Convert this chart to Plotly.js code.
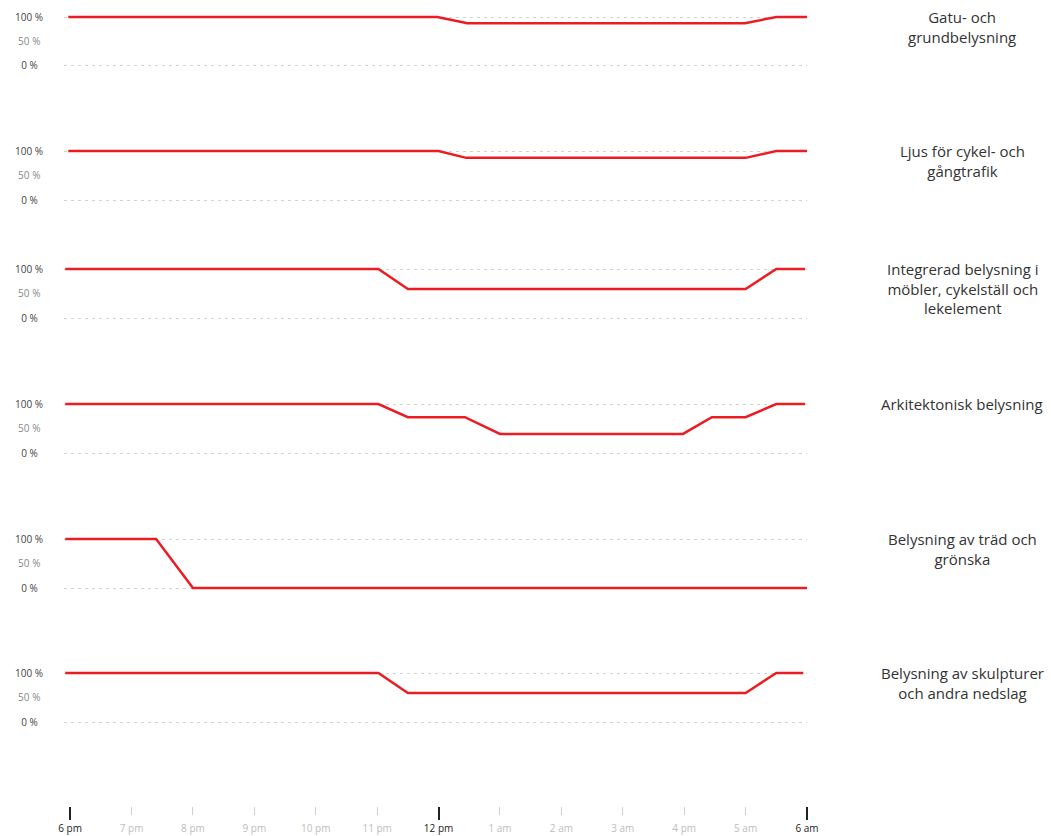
<!DOCTYPE html>
<html><head><meta charset="utf-8">
<script src="https://cdn.plot.ly/plotly-3.0.1.min.js"></script>
<style>html,body{margin:0;padding:0;background:#fff}#chart{width:1051px;height:836px}</style>
</head><body><div id="chart"></div>
<script>
// ---------- data ----------
const hourVals = [0,1,2,3,4,5,6,7,8,9,10,11,12];
const hourLabels = ['6 pm','7 pm','8 pm','9 pm','10 pm','11 pm','12 pm','1 am','2 am','3 am','4 pm','5 am','6 am'];
const majorHours = [0,6,12];

const categories = [
  'Gatu- och<br>grundbelysning',
  'Ljus för cykel- och<br>gångtrafik',
  'Integrerad belysning i<br>möbler, cykelställ och<br>lekelement',
  'Arkitektonisk belysning',
  'Belysning av träd och<br>grönska',
  'Belysning av skulpturer<br>och andra nedslag'
];

const gatuHours = [-0.03, 5.98, 6.47, 10.99, 11.5, 12];
const gatuLevels = [100, 100, 87, 87, 100, 100];

const cykelHours = [-0.03, 6.0, 6.45, 11.0, 11.5, 12];
const cykelLevels = [100, 100, 86, 86, 100, 100];

const integreradHours = [-0.08, 5.02, 5.5, 11.0, 11.5, 11.97];
const integreradLevels = [100, 100, 59, 59, 100, 100];

const arkitektHours = [-0.08, 5.02, 5.5, 6.43, 7.0, 9.98, 10.45, 11.0, 11.5, 11.97];
const arkitektLevels = [100, 100, 73, 73, 39, 39, 73, 73, 100, 100];

const tradHours = [-0.08, 1.4, 2.0, 12];
const tradLevels = [100, 100, 0, 0];

const skulpturHours = [-0.08, 5.02, 5.5, 11.0, 11.5, 11.94];
const skulpturLevels = [100, 100, 59, 59, 100, 100];

const levelTicks = [0, 100];
const levelLabels = ['0 %\u00a0\u00a0', '100 %'];
const midTicks = [50];
const midLabels = ['50 %\u00a0'];

// ---------- layout helpers ----------
const seriesHours = [gatuHours, cykelHours, integreradHours, arkitektHours, tradHours, skulpturHours];
const seriesLevels = [gatuLevels, cykelLevels, integreradLevels, arkitektLevels, tradLevels, skulpturLevels];
const panelTopPx = [17, 151, 269, 404, 539, 673];   // pixel of 100 %
const panelZeroPx = [65, 200, 318, 453, 588, 722];  // pixel of 0 %
const plotBottom = 806, plotH = 806;
const plotLeft = 64, plotRight = 807;
const frac = px => (plotBottom - px) / plotH;
const yRange = [-5, 105];
const xRange = [-0.1, 12];

const FONT = '"Open Sans", Lato, sans-serif';
const minorHours = hourVals.filter(h => !majorHours.includes(h));
const traces = [];
const layout = {
  width: 1051, height: 836,
  margin: {l: plotLeft, r: 1051 - plotRight, t: 0, b: 836 - plotBottom},
  paper_bgcolor: '#fff', plot_bgcolor: '#fff',
  showlegend: false,
  font: {family: FONT, color: '#333'},
  annotations: [],
  xaxis: {
    domain: [0, 1], range: xRange, anchor: 'free', position: 0,
    tickmode: 'array', tickvals: majorHours,
    ticktext: majorHours.map(h => hourLabels[hourVals.indexOf(h)]),
    ticks: 'outside', ticklen: 13, tickwidth: 2, tickcolor: '#222',
    tickfont: {size: 10, color: '#222', family: FONT},
    showgrid: false, zeroline: false, showline: false, fixedrange: true
  },
  xaxis2: {
    overlaying: 'x', range: xRange, anchor: 'free', position: 0,
    tickmode: 'array', tickvals: minorHours,
    ticktext: minorHours.map(h => hourLabels[hourVals.indexOf(h)]),
    ticks: 'outside', ticklen: 8, tickwidth: 1, tickcolor: '#cfcfcf',
    ticklabelstandoff: 5,
    tickfont: {size: 10, color: '#bdbdbd', family: FONT},
    showgrid: false, zeroline: false, showline: false, fixedrange: true
  }
};

const standoff = 26 - (70 - plotLeft);
for (let i = 0; i < 6; i++) {
  const k = (panelZeroPx[i] - panelTopPx[i]) / 100;
  const pxTop = panelTopPx[i] - 5 * k, pxBot = panelZeroPx[i] + 5 * k;
  const n = i + 1, m = i + 7;
  const yName = n === 1 ? 'y' : 'y' + n;
  traces.push({
    type: 'scatter', mode: 'lines', x: seriesHours[i], y: seriesLevels[i],
    xaxis: 'x', yaxis: yName,
    line: {color: '#ec1c24', width: 2.5}, hoverinfo: 'skip'
  });
  // invisible companion so the 50 % overlay axis is drawn
  traces.push({
    type: 'scatter', mode: 'lines', x: seriesHours[i], y: seriesLevels[i],
    xaxis: 'x', yaxis: 'y' + m, opacity: 0,
    line: {color: 'rgba(0,0,0,0)', width: 0}, hoverinfo: 'skip'
  });
  layout['yaxis' + (n === 1 ? '' : n)] = {
    domain: [frac(pxBot), frac(pxTop)], range: yRange, anchor: 'x',
    tickmode: 'array', tickvals: levelTicks, ticktext: levelLabels,
    ticks: '', ticklabelstandoff: standoff,
    tickfont: {size: 10, color: '#444', family: FONT},
    showgrid: true, gridcolor: '#d2d2d2', gridwidth: 1, griddash: '3px,4px',
    zeroline: false, showline: false, fixedrange: true
  };
  layout['yaxis' + m] = {
    overlaying: yName, range: yRange, anchor: 'x', side: 'left',
    tickmode: 'array', tickvals: midTicks, ticktext: midLabels,
    ticks: '', ticklabelstandoff: standoff,
    tickfont: {size: 10, color: '#888', family: FONT},
    showgrid: false, zeroline: false, showline: false, fixedrange: true
  };
  layout.annotations.push({
    text: categories[i], xref: 'paper', yref: yName,
    x: (962 - plotLeft) / (plotRight - plotLeft), y: 100, xanchor: 'center', yanchor: 'top',
    yshift: 12, showarrow: false, align: 'center',
    font: {family: FONT, size: 15, color: '#333'}
  });
}
// invisible companion so the minor-hour x axis is drawn
traces.push({
  type: 'scatter', mode: 'lines', x: tradHours, y: tradLevels,
  xaxis: 'x2', yaxis: 'y5', opacity: 0,
  line: {color: 'rgba(0,0,0,0)', width: 0}, hoverinfo: 'skip'
});

Plotly.newPlot('chart', traces, layout, {displayModeBar: false, staticPlot: true});
</script></body></html>
